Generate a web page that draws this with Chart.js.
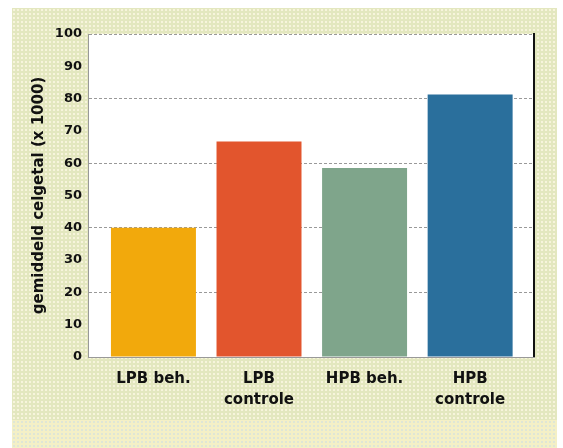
<!DOCTYPE html>
<html>
<head>
<meta charset="utf-8">
<script src="https://cdn.jsdelivr.net/npm/chart.js@4"></script>
<style>
html,body{margin:0;padding:0;background:#fff;}
#wrap{position:relative;width:563px;height:448px;overflow:hidden;}
#panel{position:absolute;left:12px;top:8px;width:545px;height:440px;background-color:#e3e7bf;
  background-image:radial-gradient(circle,#f7f4dc 0.9px,transparent 1.3px);background-size:4px 4px;}
#band{position:absolute;left:12px;top:420px;width:545px;height:28px;background-color:#f4f0c6;
  background-image:radial-gradient(circle,#dfe6d6 0.8px,transparent 1.2px);background-size:4px 4px;}
canvas{position:absolute;left:0;top:0;}
</style>
</head>
<body>
<div id="wrap">
  <div id="panel"></div>
  <div id="band"></div>
  <canvas id="chart" width="563" height="448"></canvas>
</div>
<script>
const categories = ["LPB beh.", ["LPB", "controle"], "HPB beh.", ["HPB", "controle"]];
const values = [40, 66.7, 58.5, 81.3];
const barColors = ["#f2a90c", "#e2552d", "#7fa58b", "#2a6f9c"];
const yTitle = "gemiddeld celgetal (x 1000)";

const frame = {
  id: "frame",
  beforeDraw(chart) {
    const { ctx, chartArea: a } = chart;
    ctx.save();
    ctx.fillStyle = "#fff";
    ctx.fillRect(a.left, a.top, a.width, a.height);
    ctx.restore();
  },
  afterDraw(chart) {
    const { ctx, chartArea: a } = chart;
    ctx.save();
    ctx.strokeStyle = "#111";
    ctx.lineWidth = 2;
    ctx.beginPath();
    ctx.moveTo(a.right, a.top - 1);
    ctx.lineTo(a.right, a.bottom);
    ctx.stroke();
    ctx.restore();
  }
};

const tickFont = { family: "DejaVu Sans", size: 13, weight: "bold" };

new Chart(document.getElementById("chart"), {
  type: "bar",
  data: {
    datasets: [{
      data: values.map((v, i) => ({ x: i, y: v })),
      backgroundColor: barColors,
      borderWidth: 0,
      barPercentage: 0.805,
      categoryPercentage: 1
    }]
  },
  options: {
    responsive: false,
    animation: false,
    layout: { padding: { left: 0, top: 34, right: 29, bottom: 0 } },
    plugins: { legend: { display: false }, tooltip: { enabled: false } },
    scales: {
      x: {
        type: "linear",
        offset: false,
        min: -0.62,
        max: 3.605,
        afterFit(s) { s.height = 91; },
        grid: { display: false },
        border: { display: true, color: "#999", width: 1 },
        ticks: {
          stepSize: 1,
          includeBounds: false,
          autoSkip: false,
          maxRotation: 0,
          padding: 3,
          color: "#111",
          font: { family: "DejaVu Sans", size: 15, weight: "bold", lineHeight: 1.42 },
          callback: (v) => Number.isInteger(v) ? categories[v] : ""
        }
      },
      y: {
        min: 0,
        max: 100,
        afterFit(s) { s.width = 88; },
        grid: {
          drawTicks: false,
          color: (c) => (c.tick && c.tick.value > 0 && c.tick.value % 20 === 0) ? "#999" : "rgba(0,0,0,0)",
          lineWidth: 1
        },
        border: { display: true, color: "#999", width: 1, dash: [3, 2] },
        ticks: {
          stepSize: 10,
          padding: 6,
          color: "#111",
          font: tickFont
        },
        title: {
          display: true,
          text: yTitle,
          color: "#111",
          font: { family: "DejaVu Sans", size: 15, weight: "bold" },
          padding: { top: 30, bottom: 0 }
        }
      }
    }
  },
  plugins: [frame]
});
</script>
</body>
</html>
